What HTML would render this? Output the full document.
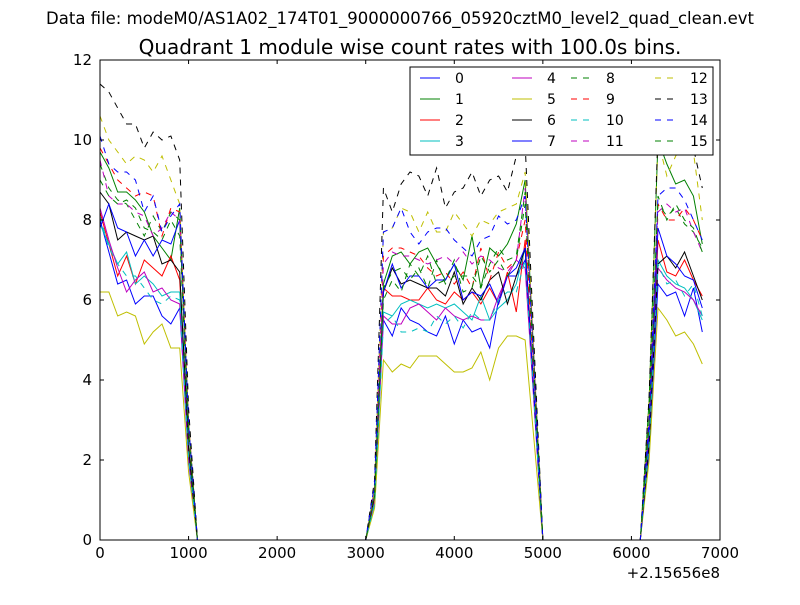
<!DOCTYPE html>
<html><head><meta charset="utf-8"><style>
body{margin:0;background:#fff;}
svg text{font-family:"DejaVu Sans","Liberation Sans",sans-serif;}
</style></head><body>
<svg id="chart" width="800" height="600" xmlns="http://www.w3.org/2000/svg">
<rect width="800" height="600" fill="#fff"/>
<text x="400" y="24" font-size="16.5" text-anchor="middle">Data file: modeM0/AS1A02_174T01_9000000766_05920cztM0_level2_quad_clean.evt</text>
<text x="410" y="54" font-size="20" text-anchor="middle">Quadrant 1 module wise count rates with 100.0s bins.</text>
<g id="series"></g>
<rect x="100" y="60" width="620" height="480" fill="none" stroke="#000" stroke-width="1"/>
<g id="axes"></g>
<text x="720" y="578" font-size="15" text-anchor="end">+2.15656e8</text>
<g id="legend"></g>
</svg>
<script>
const times=[0,100,200,300,400,500,600,700,800,900,1000,1100,3000,3100,3200,3300,3400,3500,3600,3700,3800,3900,4000,4100,4200,4300,4400,4500,4600,4700,4800,4900,5000,6100,6200,6300,6400,6500,6600,6700,6800];
const s0=[8.0,7.2,6.4,6.5,5.9,6.1,6.1,5.6,5.4,5.8,2.0,0,0,1.0,5.5,5.1,5.8,5.5,5.4,5.2,5.1,5.6,4.9,5.5,5.2,5.3,4.8,6.0,6.6,6.6,7.0,3.5,0,0,2.2,6.4,6.1,6.2,5.6,6.3,5.2];
const s1=[9.7,9.3,8.7,8.7,8.5,8.2,7.6,7.3,7.0,8.3,2.9,0,0,1.2,6.4,7.1,7.2,6.9,7.2,7.3,6.9,6.5,6.9,6.5,7.6,6.3,7.3,7.1,7.4,7.9,9.0,4.5,0,0,3.5,10.0,9.4,8.9,9.0,8.6,7.4];
const s2=[8.2,7.4,6.6,7.1,6.4,7.0,6.8,6.6,7.1,6.5,2.3,0,0,1.1,6.3,6.1,6.1,6.0,6.0,6.3,6.0,5.9,6.2,6.0,6.2,5.9,6.3,5.9,6.7,5.7,7.5,3.7,0,0,2.6,7.5,6.7,6.6,7.0,6.5,6.1];
const s3=[7.9,7.4,6.9,7.2,6.4,6.6,6.4,6.1,6.2,6.2,2.2,0,0,0.9,5.7,5.6,5.9,6.0,5.9,5.8,5.9,5.8,5.9,5.7,5.5,6.1,5.5,5.8,6.0,6.4,7.3,3.6,0,0,2.4,7.0,6.6,6.4,6.3,6.0,5.5];
const s4=[8.3,7.5,6.8,6.2,6.5,6.7,6.2,6.3,6.0,5.9,2.1,0,0,1.0,5.6,5.4,5.4,5.8,5.9,5.7,5.5,5.8,5.6,5.5,5.6,5.5,5.5,6.1,6.6,7.0,6.8,3.4,0,0,2.4,6.8,6.5,6.3,6.2,6.0,5.6];
const s5=[6.2,6.2,5.6,5.7,5.6,4.9,5.2,5.4,4.8,4.8,1.7,0,0,0.8,4.5,4.2,4.4,4.3,4.6,4.6,4.6,4.4,4.2,4.2,4.3,4.7,4.0,4.8,5.1,5.1,5.0,2.5,0,0,2.0,5.8,5.5,5.1,5.2,4.9,4.4];
const s6=[8.7,8.4,7.5,7.7,7.6,7.5,7.6,6.9,7.0,6.7,2.3,0,0,1.1,6.2,6.8,6.4,6.5,6.4,6.3,6.3,6.1,6.7,5.9,6.3,6.0,6.5,6.7,5.9,6.6,7.3,3.6,0,0,2.4,6.9,7.1,6.8,7.2,6.6,6.0];
const s7=[7.8,8.4,7.8,7.7,7.1,7.5,7.1,7.5,7.4,8.0,2.8,0,0,1.3,6.2,6.9,6.3,6.6,6.6,6.3,6.5,6.5,6.9,6.0,6.2,6.1,6.4,5.9,6.6,6.8,7.3,3.6,0,0,2.7,7.8,7.1,6.9,6.6,6.5,5.8];
const s8=[9.4,8.8,8.5,8.4,8.0,7.6,8.1,7.7,8.2,8.0,2.8,0,0,1.2,6.3,6.7,6.8,6.5,6.8,6.3,7.0,6.4,6.6,6.6,6.6,6.3,6.9,7.3,7.0,7.1,8.7,4.3,0,0,2.9,8.4,8.1,8.3,7.9,7.7,7.3];
const s9=[9.8,9.4,9.0,8.8,8.6,8.7,8.6,7.6,8.3,8.2,2.9,0,0,1.2,7.1,7.3,7.3,7.2,7.1,6.8,6.6,6.7,6.4,6.7,6.3,7.3,6.5,7.2,6.8,7.0,8.0,4.0,0,0,2.9,8.4,8.0,8.0,8.3,8.0,7.5];
const s10=[8.1,7.3,6.9,6.6,6.6,6.3,6.0,5.9,6.1,6.0,2.1,0,0,0.9,5.4,5.6,5.2,5.2,5.3,5.2,5.6,5.4,5.6,5.3,5.7,5.5,5.5,6.0,6.2,6.2,7.0,3.5,0,0,2.4,6.9,6.4,6.5,6.1,6.4,5.6];
const s11=[9.5,8.6,8.4,8.4,8.2,8.1,7.6,7.8,8.2,8.0,2.8,0,0,1.2,6.9,7.2,7.1,7.1,7.0,6.9,7.0,7.1,6.9,7.2,6.9,7.1,7.0,6.8,6.7,7.0,8.8,4.4,0,0,2.9,8.2,8.4,8.2,8.3,7.7,7.2];
const s12=[10.6,10.0,9.7,9.4,9.6,9.5,9.2,9.6,9.0,8.4,2.9,0,0,1.3,7.7,7.8,8.3,8.2,7.7,8.2,7.7,7.7,8.2,7.9,7.6,8.0,7.9,8.2,8.3,8.4,9.2,4.6,0,0,3.5,10.0,9.1,9.6,9.9,9.7,8.0];
const s13=[11.4,11.2,10.8,10.4,10.4,9.8,10.2,10.0,10.1,9.5,3.3,0,0,1.5,8.8,8.2,8.9,9.2,9.1,8.6,9.3,8.3,8.7,8.8,9.2,8.6,9.0,9.1,8.7,9.6,9.9,4.9,0,0,3.6,10.2,9.8,9.7,10.0,9.8,8.8];
const s14=[10.1,9.4,9.2,9.2,9.0,8.2,8.6,7.7,8.1,8.4,2.9,0,0,1.4,7.7,7.8,8.3,7.7,7.4,7.7,7.8,7.8,7.5,7.3,7.1,7.5,7.6,8.1,7.9,8.0,8.6,4.3,0,0,3.0,8.6,8.8,8.8,8.5,8.0,7.5];
const s15=[9.0,8.6,8.4,8.5,8.3,7.8,7.7,7.5,8.0,7.6,2.7,0,0,1.1,6.0,6.5,6.2,6.9,6.6,7.1,6.4,6.5,7.0,6.2,6.3,7.1,6.7,7.0,6.6,7.0,8.4,4.2,0,0,3.0,8.6,8.0,8.4,8.0,7.8,7.2];
const seriesValues=[s0,s1,s2,s3,s4,s5,s6,s7,s8,s9,s10,s11,s12,s13,s14,s15];
const seriesLabels=["0","1","2","3","4","5","6","7","8","9","10","11","12","13","14","15"];
const xTicks=[0,1000,2000,3000,4000,5000,6000,7000];
const yTicks=[0,2,4,6,8,10,12];

const colors=["#0000ff","#008000","#ff0000","#00bfbf","#bf00bf","#bfbf00","#000000"];
const NS="http://www.w3.org/2000/svg";
const X=t=>100+t*620/7000, Y=v=>540-v*40;
const sg=document.getElementById('series');
seriesValues.forEach((vals,i)=>{
  const p=document.createElementNS(NS,'polyline');
  
  
  p.setAttribute('points',vals.map((v,j)=>X(times[j]).toFixed(2)+','+Y(v).toFixed(2)).join(' '));
  p.setAttribute('fill','none');
  p.setAttribute('stroke',colors[i%7]);
  p.setAttribute('stroke-width','1');
  if(i>=8)p.setAttribute('stroke-dasharray','6,6');
  sg.appendChild(p);
});
const ax=document.getElementById('axes');
xTicks.forEach(t=>{
  const x=X(t);
  const l1=document.createElementNS(NS,'path');
  
  
  l1.setAttribute('d',`M${x},540v-4M${x},60v4`);l1.setAttribute('stroke','#000');ax.appendChild(l1);
  const tx=document.createElementNS(NS,'text');
  
  
  tx.setAttribute('x',x);tx.setAttribute('y',558);tx.setAttribute('font-size','15');tx.setAttribute('text-anchor','middle');
  tx.textContent=t;ax.appendChild(tx);
});
yTicks.forEach(v=>{
  const y=Y(v);
  const l1=document.createElementNS(NS,'path');
  
  
  l1.setAttribute('d',`M100,${y}h4M720,${y}h-4`);l1.setAttribute('stroke','#000');ax.appendChild(l1);
  const tx=document.createElementNS(NS,'text');
  
  
  tx.setAttribute('x',92);tx.setAttribute('y',y+5);tx.setAttribute('font-size','15');tx.setAttribute('text-anchor','end');
  tx.textContent=v;ax.appendChild(tx);
});
const lg=document.getElementById('legend');
const box=document.createElementNS(NS,'rect');


box.setAttribute('x',410);box.setAttribute('y',67);box.setAttribute('width',303);box.setAttribute('height',88);
box.setAttribute('fill','#fff');box.setAttribute('stroke','#000');lg.appendChild(box);
const colX=[420,512,571,655];
seriesLabels.forEach((lab,i)=>{
  const c=Math.floor(i/4), r=i%4, x=colX[c], y=78+r*21;
  const l=document.createElementNS(NS,'line');
  
  
  l.setAttribute('x1',x);l.setAttribute('x2',x+20);l.setAttribute('y1',y);l.setAttribute('y2',y);
  l.setAttribute('stroke',colors[i%7]);
  if(i>=8)l.setAttribute('stroke-dasharray','6,6');
  lg.appendChild(l);
  const t=document.createElementNS(NS,'text');
  
  
  t.setAttribute('x',x+35);t.setAttribute('y',y+5);t.setAttribute('font-size','14');
  t.textContent=lab;lg.appendChild(t);
});
</script>
</body></html>
